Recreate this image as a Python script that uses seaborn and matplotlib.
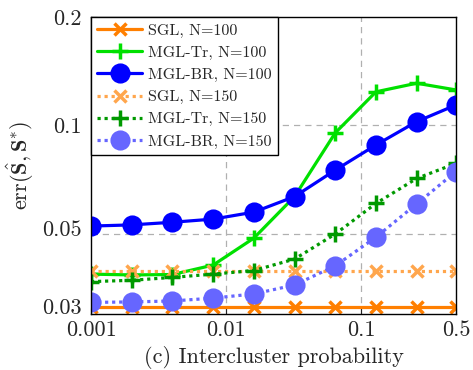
import numpy as np
import pandas as pd
import seaborn as sns
import matplotlib
matplotlib.use("Agg")
import matplotlib.pyplot as plt
import matplotlib.transforms as mtransforms
from matplotlib.ticker import FixedLocator, FixedFormatter, NullLocator

# intercluster probability (log scale)
prob = [0.001, 0.002, 0.004, 0.008, 0.016, 0.032, 0.064, 0.128, 0.256, 0.5]

# error values
sgl_100 = [0.0314, 0.0314, 0.0314, 0.0314, 0.0314, 0.0314, 0.0314, 0.0314, 0.0314, 0.0314]
mgltr_100 = [0.0387, 0.0385, 0.0386, 0.0410, 0.0487, 0.0635, 0.0954, 0.124, 0.131, 0.1255]
mglbr_100 = [0.0526, 0.0530, 0.0539, 0.0550, 0.0575, 0.0635, 0.0752, 0.0883, 0.1025, 0.114]
sgl_150 = [0.0396, 0.0396, 0.0396, 0.0396, 0.0396, 0.0396, 0.0396, 0.0396, 0.0396, 0.0396]
mgltr_150 = [0.0369, 0.0372, 0.0379, 0.0387, 0.0396, 0.0426, 0.0500, 0.0608, 0.0713, 0.0785]
mglbr_150 = [0.0323, 0.0324, 0.0326, 0.0332, 0.0341, 0.0361, 0.0408, 0.0490, 0.0606, 0.0745]

labels = ["SGL, N=100", "MGL-Tr, N=100", "MGL-BR, N=100",
          "SGL, N=150", "MGL-Tr, N=150", "MGL-BR, N=150"]
series = [sgl_100, mgltr_100, mglbr_100, sgl_150, mgltr_150, mglbr_150]

colors = ["#ff7f00", "#00e000", "#0000ff", "#ffa64d", "#009900", "#6666ff"]
markers = ["x", "+", "o", "x", "+", "o"]
msizes = [9, 12, 12, 9, 12, 12]
styles = ["-", "-", "-", (0, (1, 1.2)), (0, (1, 1.2)), (0, (1, 1.2))]

sns.set_style("ticks")
plt.rcParams["font.family"] = ["cmr10", "DejaVu Serif"]
plt.rcParams["mathtext.fontset"] = "cm"
plt.rcParams["axes.formatter.use_mathtext"] = True

fig = plt.figure(figsize=(4.73, 3.70), dpi=100)
ax = fig.add_axes([0.1924, 0.1514, 0.7716, 0.8027])

for lab, vals, c, m, ms, ls in zip(labels, series, colors, markers, msizes, styles):
    sns.lineplot(x=prob, y=vals, ax=ax, color=c, marker=m, markersize=ms,
                 markeredgewidth=2.5, markeredgecolor=c, linewidth=2.3,
                 linestyle=ls, label=lab)

ax.set_xscale("log")
ax.set_yscale("log")
ax.set_xlim(0.001, 0.5)
ax.set_ylim(0.03, 0.2)

ax.xaxis.set_major_locator(FixedLocator([0.001, 0.01, 0.1, 0.5]))
ax.xaxis.set_major_formatter(FixedFormatter(["0.001", "0.01", "0.1", "0.5"]))
ax.yaxis.set_major_locator(FixedLocator([0.03, 0.05, 0.1, 0.2]))
ax.yaxis.set_major_formatter(FixedFormatter(["0.03", "0.05", "0.1", "0.2"]))
ax.xaxis.set_minor_locator(NullLocator())
ax.yaxis.set_minor_locator(NullLocator())
ax.tick_params(labelsize=16, direction="in", length=4, width=0.8)
ax.tick_params(axis="x", pad=5)
ax.tick_params(axis="y", pad=7)

# lower y labels sit a bit above their ticks in the original
fig.canvas.draw()
for lbl in ax.get_yticklabels():
    if lbl.get_text() in ("0.03", "0.05"):
        shift = 8 if lbl.get_text() == "0.03" else 6
        lbl.set_transform(lbl.get_transform() +
                          mtransforms.ScaledTranslation(0, shift / 100, fig.dpi_scale_trans))

for v in [0.01, 0.1]:
    ax.axvline(v, color="#b0b0b0", linestyle=(0, (5, 4)), linewidth=0.9, zorder=0)
for v in [0.05, 0.1]:
    ax.axhline(v, color="#b0b0b0", linestyle=(0, (5, 4)), linewidth=0.9, zorder=0)

for sp in ax.spines.values():
    sp.set_color("black")
    sp.set_linewidth(1.0)

ax.set_xlabel("(c) Intercluster probability", fontsize=16, labelpad=4)
ax.set_ylabel(r"$\mathrm{err}(\hat{\mathbf{S}},\mathbf{S}^{*})$", fontsize=16, labelpad=4)

leg = ax.legend(loc="upper left", borderaxespad=0, fontsize=11.5, frameon=True,
                fancybox=False, edgecolor="black", framealpha=1,
                handlelength=2.8, handletextpad=0.35, labelspacing=0.5,
                borderpad=0.4)
leg.get_frame().set_linewidth(1.0)

fig.savefig("out.png", dpi=100)
